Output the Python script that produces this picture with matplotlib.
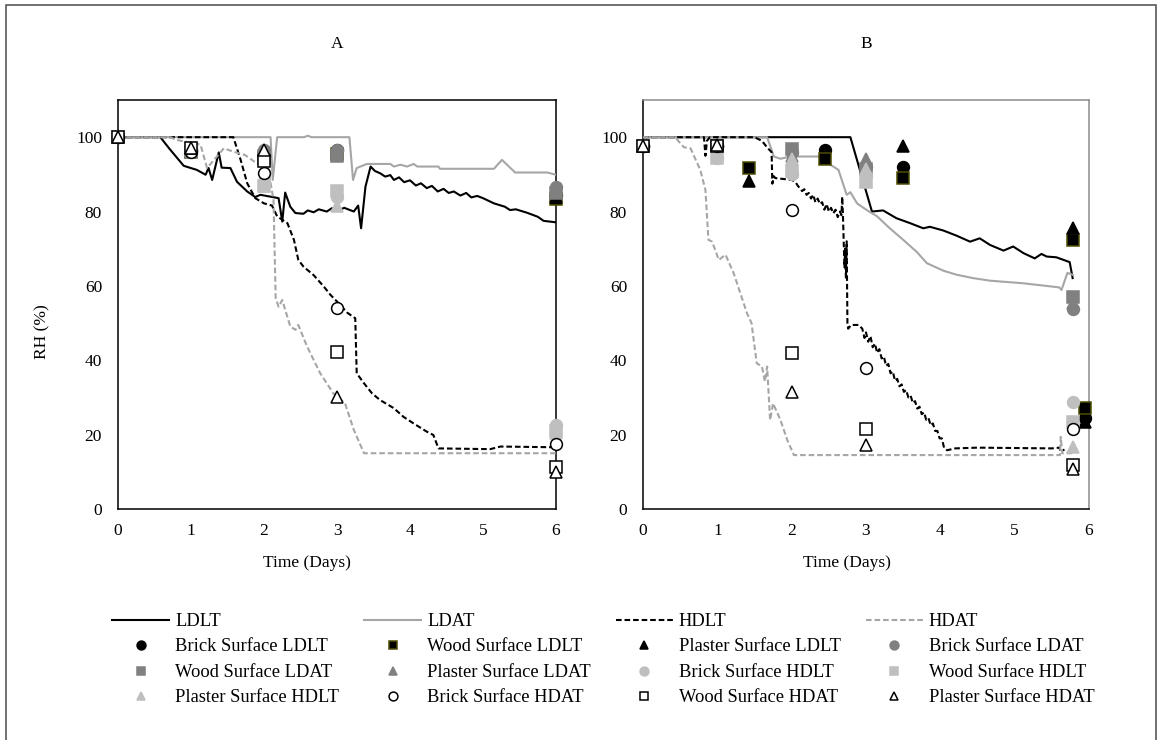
import matplotlib
matplotlib.use('Agg')
import matplotlib.pyplot as plt
from matplotlib.patches import Rectangle

plt.rcParams['font.family'] = ['Liberation Serif', 'DejaVu Serif']
plt.rcParams['font.size'] = 12.5

# ---------------- panel A : RH lines ----------------
a_ldlt_t = [0, 0.58, 0.7, 0.9, 1.08, 1.2, 1.24, 1.29, 1.38, 1.42, 1.54, 1.63, 1.77, 1.88, 1.95, 2.09, 2.2, 2.25,
            2.29, 2.36, 2.43, 2.54, 2.6, 2.68, 2.75, 2.86, 2.93, 3.0, 3.1, 3.23, 3.29, 3.33, 3.39, 3.46, 3.52, 3.59,
            3.66, 3.73, 3.78, 3.85, 3.92, 4.0, 4.08, 4.15, 4.23, 4.3, 4.38, 4.46, 4.53, 4.6, 4.69, 4.77, 4.84,
            4.92, 5.0, 5.15, 5.3, 5.37, 5.45, 5.6, 5.75, 5.83, 6.0]
a_ldlt_rh = [100, 100, 97, 92.3, 91.2, 89.9, 91.7, 88.5, 95.9, 91.8, 91.7, 88, 85.4, 83.9, 84.5, 84, 83.6, 77.3,
             85.1, 81.3, 79.6, 79.4, 80.3, 79.8, 80.6, 80, 80.9, 80.2, 81, 80, 81.6, 75.5, 86.7, 92.1, 90.9, 90.3,
             89.4, 89.8, 88.5, 89.2, 87.9, 88.4, 87, 87.6, 86.3, 86.9, 85.4, 86.1, 85, 85.4, 84.3, 85, 83.8, 84.2,
             83.6, 82.2, 81.3, 80.4, 80.6, 79.7, 78.6, 77.5, 77.1]

a_ldat_t = [0, 2.09, 2.12, 2.18, 2.55, 2.6, 2.65, 3.17, 3.22, 3.27, 3.41, 3.73, 3.78, 3.87, 3.96, 4.05, 4.1, 4.39,
            4.41, 5.15, 5.26, 5.44, 5.88, 6.0]
a_ldat_rh = [100, 100, 88.5, 100, 100, 100.4, 100, 100, 88.5, 91.7, 92.8, 92.8, 92.1, 92.6, 92.1, 92.8, 92.1,
             92.1, 91.5, 91.5, 93.9, 90.5, 90.5, 89.9]

a_hdlt_t = [0, 1.58, 1.68, 1.77, 1.88, 2.0, 2.11, 2.18, 2.32, 2.41, 2.47, 2.54, 2.68, 2.82, 2.91, 3.0, 3.14,
            3.25, 3.27, 3.37, 3.48, 3.59, 3.78, 3.91, 4.05, 4.23, 4.32, 4.39, 5.1, 5.24, 6.0]
a_hdlt_rh = [100, 100, 93.9, 87.6, 83.6, 82.2, 81.6, 78.7, 76.9, 72.4, 67, 65.2, 62.9, 59.8, 57.6, 55.8, 52.8,
             51.3, 36.5, 33.8, 31.1, 29.3, 27.1, 24.8, 23, 20.8, 19.9, 16.3, 16.1, 16.8, 16.6]

a_hdat_t = [0, 0.72, 0.79, 1.04, 1.13, 1.22, 1.45, 1.58, 1.74, 1.9, 2.06, 2.13, 2.16, 2.2, 2.25, 2.36, 2.43,
            2.47, 2.59, 2.77, 2.95, 3.11, 3.23, 3.37, 6.0]
a_hdat_rh = [100, 100, 99.3, 98.4, 98, 91.7, 97, 96.1, 95.2, 93, 91.2, 83.1, 56.7, 54.4, 56.2, 49.1, 48.2,
             49.5, 43.7, 36.5, 31.1, 28.4, 21.3, 15, 15]

# ---------------- panel A : surface RH ----------------
a_days = [0, 1, 2, 3, 6]
a_brick_ldlt = [100, 96.5, 95, 96.5, 84.5]
a_wood_ldlt = [100, 96, 94.5, 95.5, 83.5]
a_plaster_ldlt = [100, 97, 96, 96, 84]
a_brick_ldat = [100, 96.5, 96.5, 96.5, 86.5]
a_wood_ldat = [100, 96, 95, 95, 85]
a_plaster_ldat = [100, 96.5, 96, 95.5, 86]
a_brick_hdlt = [100, 97, 88, 84, 22.5]
a_wood_hdlt = [100, 97, 87, 85.5, 21]
a_plaster_hdlt = [100, 97, 87, 81.5, 20.5]
a_brick_hdat = [100, 96, 90.5, 54, 17.4]
a_wood_hdat = [100, 97, 93.5, 42.3, 11.2]
a_plaster_hdat = [100, 97, 96.5, 30, 9.9]

# ---------------- panel B : RH lines ----------------
b_ldlt_t = [0, 2.79, 3.08, 3.23, 3.41, 3.59, 3.77, 3.86, 4.04, 4.22, 4.4, 4.53, 4.67, 4.85, 4.98, 5.12, 5.27,
            5.36, 5.43, 5.56, 5.74, 5.78]
b_ldlt_rh = [100, 100, 80, 80.3, 78.2, 76.9, 75.5, 75.9, 74.9, 73.5, 71.9, 72.8, 71, 69.5, 70.6, 68.8, 67.4,
             68.6, 67.9, 67.7, 66.4, 62.1]

b_ldat_t = [0, 1.67, 1.76, 1.85, 1.98, 2.43, 2.52, 2.63, 2.74, 2.79, 2.88, 3.01, 3.15, 3.32, 3.5, 3.68, 3.82,
            4.04, 4.22, 4.44, 4.67, 5.12, 5.6, 5.63, 5.71, 5.78]
b_ldat_rh = [100, 100, 94.8, 94.2, 94.8, 94.8, 92.6, 91.2, 84.5, 85.2, 82.2, 80.4, 78.7, 75.5, 72.4, 69.2, 66.1,
             64.1, 63, 62.1, 61.4, 60.7, 59.6, 58.9, 63.5, 63]

b_hdlt_t = [0, 0.82, 0.84, 0.86, 0.9, 1.5, 1.6, 1.68, 1.73, 1.74, 1.76, 1.78, 2.0, 2.05, 2.08, 2.1, 2.14, 2.17,
            2.2, 2.23, 2.26, 2.29, 2.32, 2.35, 2.38, 2.41, 2.44, 2.47, 2.5, 2.53, 2.56, 2.59, 2.62, 2.65, 2.67,
            2.68, 2.69, 2.71, 2.72, 2.73, 2.74, 2.75, 2.76, 2.8, 2.9, 2.95, 2.98, 3.0, 3.03, 3.06, 3.09, 3.12,
            3.15, 3.18, 3.21, 3.24, 3.27, 3.3, 3.33, 3.36, 3.39, 3.42, 3.45, 3.48, 3.51, 3.54, 3.57, 3.6, 3.63,
            3.66, 3.69, 3.72, 3.75, 3.78, 3.81, 3.84, 3.87, 3.9, 3.93, 3.96, 3.99, 4.02, 4.05, 4.09, 4.2, 4.5,
            5.0, 5.5, 5.6, 5.62, 5.67]
b_hdlt_rh = [100, 100, 95, 99, 100, 100, 99, 97, 96, 87.5, 89.5, 89, 88.5, 88, 87, 86.5, 85.5, 86, 84.5, 85,
             83.5, 84.5, 82.5, 83.5, 82, 82.5, 80.5, 82, 80, 81, 79.5, 80.5, 78.5, 80, 79, 84, 79, 65, 70, 62,
             72, 50, 48.5, 49.5, 49.5, 48.5, 46, 47.5, 45, 46.5, 43.5, 44.5, 42, 43, 40.5, 41, 38.5, 39, 36.5,
             37, 34.5, 35, 33, 33.5, 31.5, 32, 30, 30.5, 28.5, 29, 27, 27.5, 25.5, 26, 24, 24.5, 22.5, 23, 21,
             21, 19, 19, 16.5, 15.8, 16.3, 16.5, 16.4, 16.3, 16.5, 15.5, 16]

b_hdat_t = [0, 0.43, 0.55, 0.64, 0.77, 0.84, 0.88, 0.93, 1.02, 1.11, 1.22, 1.31, 1.4, 1.46, 1.53, 1.6, 1.64,
            1.67, 1.71, 1.75, 1.85, 1.94, 2.03, 5.61, 5.62, 5.64, 5.78]
b_hdat_rh = [100, 100, 97.3, 97, 91.2, 85.8, 72.4, 71.9, 67, 68.4, 63.4, 58, 52.6, 50, 39.2, 38.3, 34.3, 38.3,
             23.9, 28.4, 23.9, 18.6, 14.5, 14.5, 19.4, 15, 15]

# ---------------- panel B : surface RH ----------------
b_days = [0, 1, 2, 3, 5.78]
b_brick_ldlt_t = [0, 1, 2.45, 3.5, 5.95]
b_brick_ldlt = [97.5, 97.5, 96.5, 92, 24.5]
b_wood_ldlt_t = [0, 1, 1.42, 2.45, 3.5, 5.78, 5.95]
b_wood_ldlt = [97.5, 97.5, 91.7, 94, 89, 72.4, 27.1]
b_plaster_ldlt_t = [0, 1, 1.42, 3.5, 5.78, 5.95]
b_plaster_ldlt = [97.5, 97.5, 88.3, 97.7, 75.5, 23.5]
b_brick_ldat = [97.5, 97.5, 96, 92, 53.8]
b_wood_ldat = [97.5, 97.5, 96.8, 91.5, 57]
b_plaster_ldat = [97.5, 97.8, 95, 94, 55.5]
b_brick_hdlt = [97.5, 94.5, 90, 89.5, 28.7]
b_wood_hdlt = [97.5, 94.3, 91, 88, 23.5]
b_plaster_hdlt = [97.5, 96, 94, 91.5, 16.8]
b_brick_hdat = [97.5, 97.5, 80.4, 37.8, 21.5]
b_wood_hdat = [97.5, 97.5, 42, 21.5, 11.8]
b_plaster_hdat = [97.5, 97.8, 31.6, 17.2, 10.7]

BLACK = 'black'
LINE_GRAY = '#a6a6a6'
DARK = '#808080'
LIGHT = '#bfbfbf'
DASH = (0, (2.7, 1.4))

fig = plt.figure(figsize=(11.58, 7.4), dpi=100)
ax_a = fig.add_axes([118 / 1158, 1 - 509 / 740, 438 / 1158, 409 / 740])
ax_b = fig.add_axes([643 / 1158, 1 - 509 / 740, 446 / 1158, 409 / 740])


def draw_lines(ax, ldlt, ldat, hdlt, hdat):
    ax.plot(ldlt[0], ldlt[1], color=BLACK, lw=1.5, label='LDLT')
    ax.plot(ldat[0], ldat[1], color=LINE_GRAY, lw=1.5, label='LDAT')
    ax.plot(hdlt[0], hdlt[1], color=BLACK, lw=1.5, ls=DASH, label='HDLT')
    ax.plot(hdat[0], hdat[1], color=LINE_GRAY, lw=1.5, ls=DASH, label='HDAT')


def draw_points(ax, series):
    styles = [
        ('o', BLACK, BLACK, 'Brick Surface LDLT'),
        ('s', BLACK, '#4d4d00', 'Wood Surface LDLT'),
        ('^', BLACK, BLACK, 'Plaster Surface LDLT'),
        ('o', DARK, DARK, 'Brick Surface LDAT'),
        ('s', DARK, DARK, 'Wood Surface LDAT'),
        ('^', DARK, DARK, 'Plaster Surface LDAT'),
        ('o', LIGHT, LIGHT, 'Brick Surface HDLT'),
        ('s', LIGHT, LIGHT, 'Wood Surface HDLT'),
        ('^', LIGHT, LIGHT, 'Plaster Surface HDLT'),
        ('o', 'white', BLACK, 'Brick Surface HDAT'),
        ('s', 'white', BLACK, 'Wood Surface HDAT'),
        ('^', 'white', BLACK, 'Plaster Surface HDAT'),
    ]
    for (x, y), (m, fc, ec, lab) in zip(series, styles):
        ax.plot(x, y, ls='none', marker=m, ms=8.5, mfc=fc, mec=ec, mew=1.1, label=lab, clip_on=False)


draw_lines(ax_a, (a_ldlt_t, a_ldlt_rh), (a_ldat_t, a_ldat_rh), (a_hdlt_t, a_hdlt_rh), (a_hdat_t, a_hdat_rh))
draw_points(ax_a, [(a_days, a_brick_ldlt), (a_days, a_wood_ldlt), (a_days, a_plaster_ldlt),
                   (a_days, a_brick_ldat), (a_days, a_wood_ldat), (a_days, a_plaster_ldat),
                   (a_days, a_brick_hdlt), (a_days, a_wood_hdlt), (a_days, a_plaster_hdlt),
                   (a_days, a_brick_hdat), (a_days, a_wood_hdat), (a_days, a_plaster_hdat)])

draw_lines(ax_b, (b_ldlt_t, b_ldlt_rh), (b_ldat_t, b_ldat_rh), (b_hdlt_t, b_hdlt_rh), (b_hdat_t, b_hdat_rh))
draw_points(ax_b, [(b_brick_ldlt_t, b_brick_ldlt), (b_wood_ldlt_t, b_wood_ldlt), (b_plaster_ldlt_t, b_plaster_ldlt),
                   (b_days, b_brick_ldat), (b_days, b_wood_ldat), (b_days, b_plaster_ldat),
                   (b_days, b_brick_hdlt), (b_days, b_wood_hdlt), (b_days, b_plaster_hdlt),
                   (b_days, b_brick_hdat), (b_days, b_wood_hdat), (b_days, b_plaster_hdat)])

for ax in (ax_a, ax_b):
    ax.set_xlim(0, 6)
    ax.set_ylim(0, 110)
    ax.set_xticks(range(7))
    ax.set_yticks(range(0, 101, 20))
    ax.tick_params(axis='y', length=0, pad=11.5)
    ax.tick_params(axis='x', length=0, pad=10)
    for sp in ax.spines.values():
        sp.set_linewidth(1.1)
        sp.set_zorder(0.5)

ax_b.spines['top'].set_color('#8c8c8c')
ax_b.spines['right'].set_color('#8c8c8c')

fig.text(337 / 1158, 1 - 44 / 740, 'A', ha='center', va='center')
fig.text(866 / 1158, 1 - 44 / 740, 'B', ha='center', va='center')
fig.text(307 / 1158, 1 - 563 / 740, 'Time (Days)', ha='center', va='center')
fig.text(847 / 1158, 1 - 563 / 740, 'Time (Days)', ha='center', va='center')
fig.text(42 / 1158, 1 - 332 / 740, 'RH (%)', ha='center', va='center', rotation=90)

handles, labels = ax_a.get_legend_handles_labels()
order = [i + 4 * r for i in range(4) for r in range(4)]
fig.legend([handles[k] for k in order], [labels[k] for k in order], ncol=4, loc='upper left',
           bbox_to_anchor=(112 / 1158, 1 - 613 / 740), frameon=False, fontsize=13.3, handlelength=3.1,
           handletextpad=0.32, columnspacing=1.35, labelspacing=0.46, borderpad=0, borderaxespad=0,
           markerscale=0.75)

fig.patches.append(Rectangle((6 / 1158, -0.01), 1150 / 1158, 1.01 - 5 / 740, transform=fig.transFigure,
                             fill=False, edgecolor='#595959', lw=1.2))

fig.savefig('out.png', dpi=100)
